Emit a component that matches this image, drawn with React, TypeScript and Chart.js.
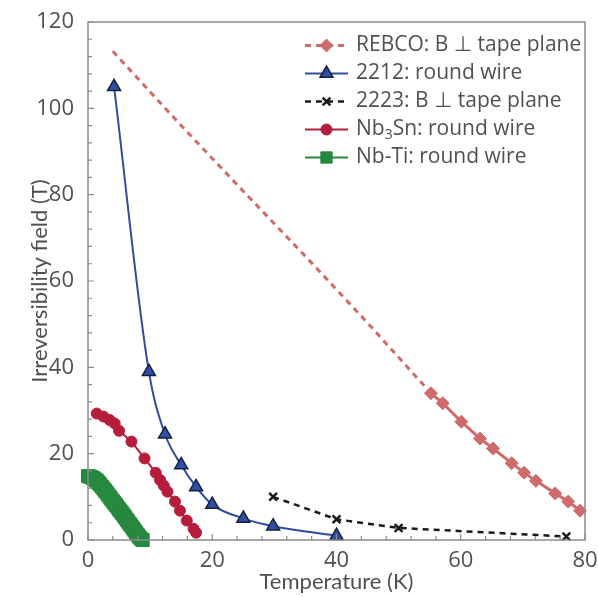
import React, { useEffect, useRef } from 'react';
import { Chart, registerables } from 'chart.js';
import { drawPoint } from 'chart.js/helpers';

Chart.register(...registerables);

// ---------- data ----------
const rebcoT = [4, 15, 25, 36, 45, 55.2, 57.1, 60.1, 63.1, 65.2, 68.2, 70.2, 72.1, 75.2, 77.3, 79.2];
const rebcoB = [113.2, 96, 80.8, 64.2, 50.3, 34, 31.7, 27.4, 23.5, 21.2, 17.8, 15.6, 13.7, 10.8, 8.9, 6.8];
const rebcoMeasured = [false, false, false, false, false, true, true, true, true, true, true, true, true, true, true, true];

const bi2212T = [4.2, 9.8, 12.4, 15.0, 17.4, 20.0, 25.0, 29.8, 40.0];
const bi2212B = [105, 39, 24.5, 17.4, 12.3, 8.2, 5.0, 3.2, 1.0];

const bi2223T = [29.8, 40, 50, 77];
const bi2223B = [10, 4.8, 2.8, 0.8];

const nb3snT = [1.4, 2.5, 3.5, 4.3, 5.0, 7.0, 9.1, 10.9, 11.6, 12.2, 12.8, 14.0, 14.8, 15.9, 17.0, 17.4];
const nb3snB = [29.3, 28.6, 27.8, 27.0, 25.3, 22.8, 18.9, 15.6, 13.9, 12.6, 11.2, 8.9, 6.8, 4.5, 2.6, 1.7];

const nbtiT = [0, 0.25, 0.5, 0.75, 1, 1.25, 1.5, 1.75, 2, 2.25, 2.5, 2.75, 3, 3.25, 3.5, 3.75, 4, 4.25, 4.5, 4.75, 5, 5.25, 5.5, 5.75, 6, 6.25, 6.5, 6.75, 7, 7.25, 7.5, 7.75, 8, 8.25, 8.5, 8.8];
const nbtiB = [14.8, 14.7, 14.6, 14.4, 14.2, 13.9, 13.6, 13.2, 12.8, 12.35, 11.9, 11.45, 11.0, 10.5, 10.0, 9.5, 9.0, 8.55, 8.1, 7.6, 7.1, 6.65, 6.2, 5.7, 5.2, 4.7, 4.2, 3.7, 3.2, 2.7, 2.2, 1.7, 1.2, 0.75, 0.3, 0.0];

// legend label parts: [normal, subscript, normal, ...]
const legendParts: string[][] = [
  ['REBCO: B \u22A5 tape plane'],
  ['2212: round wire'],
  ['2223: B \u22A5 tape plane'],
  ['Nb', '3', 'Sn: round wire'],
  ['Nb-Ti: round wire'],
];

const xTitle = 'Temperature (K)';
const yTitle = 'Irreversibility field (T)';

const FONT = '"Open Sans", "DejaVu Sans", sans-serif';
const TFONT = 'Lato, "Open Sans", sans-serif';
const TEXT = '#505050';

const C_REBCO = '#cf6b6b';
const C_2212 = '#2f4c9f';
const C_2223 = '#1a1a1a';
const C_NB3SN = '#b51d3c';
const C_NBTI = '#27893f';

const pts = (xs: number[], ys: number[]) => xs.map((x, i) => ({ x, y: ys[i] }));

const legendStyles = [
  { color: C_REBCO, dash: [6, 5], width: 3, style: 'rectRot', radius: 6.5, fill: C_REBCO, stroke: C_REBCO, bw: 1 },
  { color: C_2212, dash: [], width: 2, style: 'triangle', radius: 7.5, fill: '#2e4fa6', stroke: '#16203f', bw: 1.5 },
  { color: C_2223, dash: [6, 5], width: 2.5, style: 'crossRot', radius: 5.5, fill: C_2223, stroke: C_2223, bw: 2.5 },
  { color: C_NB3SN, dash: [], width: 2, style: 'circle', radius: 5.5, fill: C_NB3SN, stroke: C_NB3SN, bw: 1 },
  { color: C_NBTI, dash: [], width: 2, style: 'rect', radius: 8, fill: C_NBTI, stroke: C_NBTI, bw: 1 },
];

const framePlugin = {
  id: 'frameTicks',
  afterDraw(chart: any) {
    const { ctx, chartArea } = chart;
    const xs = chart.scales.x;
    const ys = chart.scales.y;
    ctx.save();
    ctx.strokeStyle = '#8c8c8c';
    ctx.lineWidth = 1.5;
    ctx.setLineDash([]);
    ctx.strokeRect(chartArea.left, chartArea.top, chartArea.right - chartArea.left, chartArea.bottom - chartArea.top);
    ctx.lineWidth = 1.2;
    ctx.beginPath();
    for (let v = 0; v <= 120; v += 4) {
      const y = ys.getPixelForValue(v);
      const len = v % 20 === 0 ? 6 : 4;
      ctx.moveTo(chartArea.left, y);
      ctx.lineTo(chartArea.left + len, y);
    }
    for (let v = 0; v <= 80; v += 4) {
      const x = xs.getPixelForValue(v);
      const len = v % 20 === 0 ? 6 : 4;
      ctx.moveTo(x, chartArea.bottom);
      ctx.lineTo(x, chartArea.bottom - len);
    }
    ctx.stroke();
    ctx.restore();
  },
};

const legendPlugin = {
  id: 'customLegend',
  afterDraw(chart: any) {
    const ctx = chart.ctx;
    const x0 = 305, x1 = 348, xm = 326.5, xt = 356, y0 = 45.5, step = 28;
    ctx.save();
    legendStyles.forEach((s, i) => {
      const y = y0 + i * step;
      ctx.strokeStyle = s.color;
      ctx.lineWidth = s.width;
      ctx.setLineDash(s.dash);
      ctx.beginPath();
      ctx.moveTo(x0, y);
      ctx.lineTo(x1, y);
      ctx.stroke();
      ctx.setLineDash([]);
      ctx.fillStyle = s.fill;
      ctx.strokeStyle = s.stroke;
      ctx.lineWidth = s.bw;
      drawPoint(ctx, { pointStyle: s.style, radius: s.radius, rotation: 0, borderWidth: s.bw } as any, xm, y);
      // text
      ctx.fillStyle = TEXT;
      ctx.textBaseline = 'middle';
      ctx.textAlign = 'left';
      let x = xt;
      legendParts[i].forEach((part, k) => {
        if (k % 2 === 1) {
          ctx.font = `14px ${FONT}`;
          ctx.fillText(part, x, y + 6);
        } else {
          ctx.font = `21px ${FONT}`;
          ctx.fillText(part, x, y);
        }
        x += ctx.measureText(part).width;
      });
    });
    ctx.restore();
  },
};

export default function App() {
  const ref = useRef<HTMLCanvasElement | null>(null);
  useEffect(() => {
    if (!ref.current) return;
    const chart = new Chart(ref.current, {
      type: 'scatter',
      data: {
        datasets: [
          {
            label: legendParts[0].join(''),
            data: pts(rebcoT, rebcoB),
            showLine: true,
            borderColor: C_REBCO,
            backgroundColor: C_REBCO,
            borderWidth: 3,
            pointStyle: 'rectRot',
            pointRadius: rebcoMeasured.map((m) => (m ? 6.5 : 0)),
            pointBorderWidth: 1,
            pointBorderColor: C_REBCO,
            pointBackgroundColor: C_REBCO,
            segment: {
              borderDash: (c: any) => (rebcoMeasured[c.p1DataIndex] && rebcoMeasured[c.p0DataIndex] ? undefined : [6, 5]),
            },
            clip: false as any,
            order: 5,
          },
          {
            label: legendParts[1].join(''),
            data: pts(bi2212T, bi2212B),
            showLine: true,
            borderColor: C_2212,
            borderWidth: 2,
            cubicInterpolationMode: 'monotone',
            pointStyle: 'triangle',
            pointRadius: 7.5,
            pointBackgroundColor: '#2e4fa6',
            pointBorderColor: '#16203f',
            pointBorderWidth: 1.5,
            clip: false as any,
            order: 1,
          },
          {
            label: legendParts[2].join(''),
            data: pts(bi2223T, bi2223B),
            showLine: true,
            borderColor: C_2223,
            borderWidth: 2.5,
            borderDash: [6, 5],
            pointStyle: 'crossRot',
            pointRadius: 5.5,
            pointBorderColor: C_2223,
            pointBorderWidth: 2.5,
            clip: false as any,
            order: 2,
          },
          {
            label: legendParts[3].join(''),
            data: pts(nb3snT, nb3snB),
            showLine: true,
            borderColor: C_NB3SN,
            backgroundColor: C_NB3SN,
            borderWidth: 2,
            pointStyle: 'circle',
            pointRadius: 5.5,
            pointBackgroundColor: C_NB3SN,
            pointBorderColor: C_NB3SN,
            pointBorderWidth: 1,
            clip: false as any,
            order: 3,
          },
          {
            label: legendParts[4].join(''),
            data: pts(nbtiT, nbtiB),
            showLine: true,
            borderColor: C_NBTI,
            backgroundColor: C_NBTI,
            borderWidth: 2,
            pointStyle: 'rect',
            pointRadius: 9.2,
            pointBackgroundColor: C_NBTI,
            pointBorderColor: C_NBTI,
            pointBorderWidth: 1,
            clip: false as any,
            order: 4,
          },
        ],
      },
      options: {
        animation: false,
        responsive: false,
        maintainAspectRatio: false,
        layout: { padding: { top: 22, right: 13, left: 0, bottom: 0 } },
        plugins: { legend: { display: false }, tooltip: { enabled: false } },
        scales: {
          x: {
            type: 'linear',
            min: 0,
            max: 80,
            ticks: { stepSize: 20, padding: 0, color: TEXT, font: { family: FONT, size: 22 } },
            grid: { display: false },
            border: { display: false },
            title: {
              display: true,
              text: xTitle,
              color: TEXT,
              font: { family: TFONT, size: 22 },
              padding: { top: 0, bottom: 2 },
            },
            afterFit: (s: any) => {
              s.height = 57;
            },
          },
          y: {
            type: 'linear',
            min: 0,
            max: 120,
            ticks: { stepSize: 20, padding: 6, color: TEXT, font: { family: FONT, size: 22 } },
            grid: { display: false },
            border: { display: false },
            title: {
              display: true,
              text: yTitle,
              color: TEXT,
              font: { family: TFONT, size: 22 },
              padding: { top: 27, bottom: 0 },
            },
            afterFit: (s: any) => {
              s.width = 88;
            },
          },
        },
      } as any,
      plugins: [framePlugin, legendPlugin],
    });
    return () => chart.destroy();
  }, []);
  return (
    <div style={{ position: 'fixed', left: 0, top: 0, width: 598, height: 597, background: '#fff' }}>
      <canvas ref={ref} width={598} height={597} style={{ width: 598, height: 597, display: 'block' }} />
    </div>
  );
}
